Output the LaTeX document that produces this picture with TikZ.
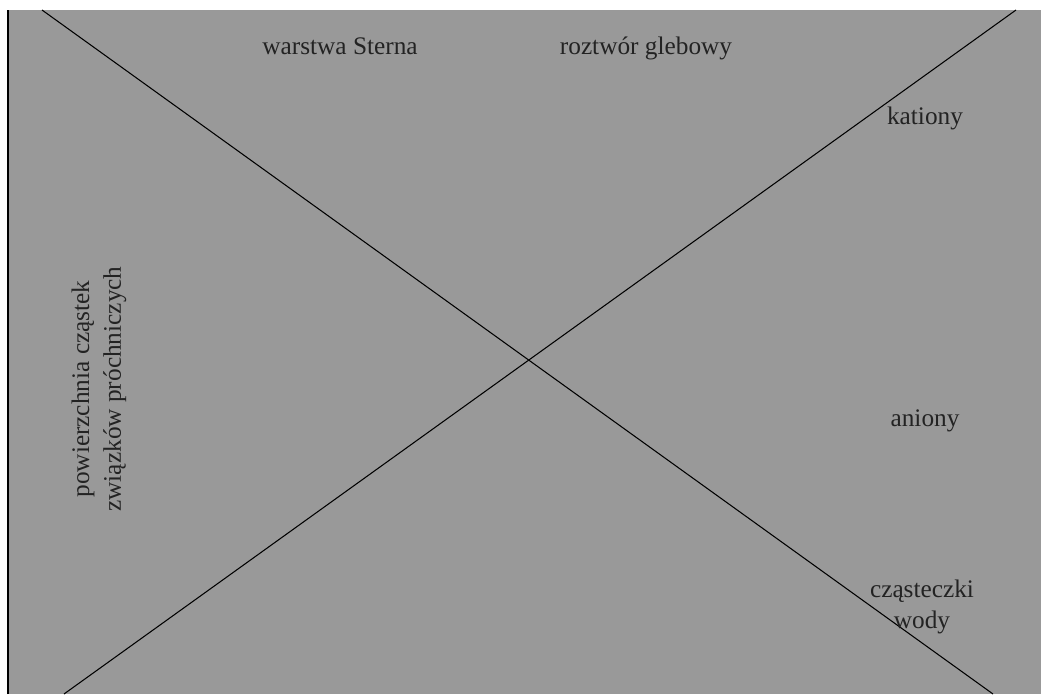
\documentclass[tikz,border=0pt]{standalone}
\usepackage{fontspec}
\setmainfont{Liberation Serif}
\usepackage{tikz}
\usetikzlibrary{positioning, calc}
\definecolor{SoilGray}{RGB}{153,153,153}
\definecolor{InkGray}{RGB}{35,35,35}

\begin{document}
\begin{tikzpicture}[
            lbl/.style={font=\fontsize{14.4}{18}\selectfont, text=InkGray,
                        inner sep=0pt, align=center},
            diag/.style={draw=black, line width=0.6pt}
          ]
          \useasboundingbox (0,0) rectangle (20.82,13.88);
          \fill[SoilGray] (0.16,0) rectangle (20.82,13.68);
          \draw[line width=1.1pt] (0.16,0) -- (0.16,13.68);

          % crossing lines
          \coordinate (tl) at (0.84,13.68);
          \coordinate (br) at (19.86,0);
          \coordinate (bl) at (1.28,0);
          \coordinate (tr) at (20.32,13.68);
          \draw[diag] (tl) -- (br);
          \draw[diag] (bl) -- (tr);

          \node[lbl, anchor=base] (stern) at (6.8,12.78) {warstwa Sterna};
          \node[lbl, anchor=base] (soln) at (12.92,12.78) {roztwór glebowy};
          \node[lbl, anchor=base] (cat) at (18.5,11.38) {kationy};
          \node[lbl, anchor=base] (an) at (18.5,5.36) {aniony};
          \node[lbl] (water) at (18.44,1.74) {cząsteczki\\wody};
          \node[lbl, rotate=90] (surf) at (1.98,6.1)
                {powierzchnia cząstek\\związków próchniczych};
        \end{tikzpicture}
\end{document}
